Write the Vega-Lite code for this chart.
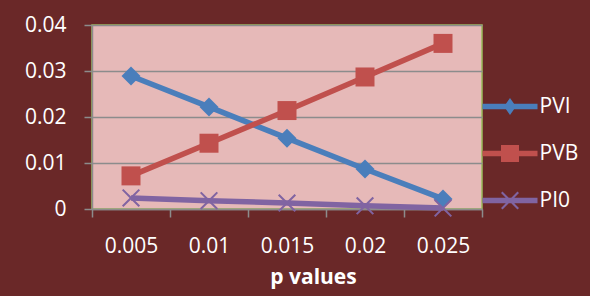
{
  "$schema": "https://vega.github.io/schema/vega-lite/v6.json",
  "autosize": {"type": "none"},
  "width": 390,
  "height": 184,
  "padding": {"left": 92, "top": 25, "right": 108, "bottom": 87},
  "background": "#6A2828",
  "config": {
    "font": "Open Sans",
    "view": {"fill": "#E6B9B8", "stroke": "#9BBB59", "strokeWidth": 1.5}
  },
  "data": {
    "values": [
      {"p": "0.005", "series": "PVI", "value": 0.0289},
      {"p": "0.01", "series": "PVI", "value": 0.0222},
      {"p": "0.015", "series": "PVI", "value": 0.0154},
      {"p": "0.02", "series": "PVI", "value": 0.0087},
      {"p": "0.025", "series": "PVI", "value": 0.0022},
      {"p": "0.005", "series": "PVB", "value": 0.0072},
      {"p": "0.01", "series": "PVB", "value": 0.0143},
      {"p": "0.015", "series": "PVB", "value": 0.0214},
      {"p": "0.02", "series": "PVB", "value": 0.0287},
      {"p": "0.025", "series": "PVB", "value": 0.0360},
      {"p": "0.005", "series": "PI0", "value": 0.0024},
      {"p": "0.01", "series": "PI0", "value": 0.0018},
      {"p": "0.015", "series": "PI0", "value": 0.0013},
      {"p": "0.02", "series": "PI0", "value": 0.0007},
      {"p": "0.025", "series": "PI0", "value": 0.0002}
    ]
  },
  "encoding": {
    "x": {
      "field": "p", "type": "ordinal", "sort": null,
      "scale": {"paddingInner": 0, "paddingOuter": 0},
      "axis": {
        "title": "p values",
        "labelAngle": 0,
        "labelFont": "Open Sans", "labelFontSize": 21, "labelColor": "#FFFFFF",
        "labelPadding": 18,
        "tickBand": "extent", "tickSize": 8, "tickColor": "#8C8C8C", "tickWidth": 1.5,
        "domainColor": "#8C8C8C", "domainWidth": 1.5,
        "titleFont": "Open Sans", "titleFontSize": 21, "titleFontWeight": "bold", "titleColor": "#FFFFFF",
        "titleX": 221, "titleY": 74, "titleAlign": "center", "titleBaseline": "alphabetic"
      }
    },
    "y": {
      "field": "value", "type": "quantitative",
      "scale": {"domain": [0, 0.04], "nice": false},
      "axis": {
        "title": null,
        "values": [0, 0.01, 0.02, 0.03, 0.04],
        "format": ".2~f",
        "labelFont": "Open Sans", "labelFontSize": 21, "labelColor": "#FFFFFF",
        "labelPadding": 18,
        "tickSize": 8, "tickColor": "#8C8C8C", "tickWidth": 1.5,
        "domainColor": "#8C8C8C", "domainWidth": 1.5,
        "grid": true, "gridColor": "#8C8C8C", "gridWidth": 1.5
      }
    },
    "color": {
      "field": "series", "type": "nominal",
      "scale": {"domain": ["PVI", "PVB", "PI0"], "range": ["#4A7EBB", "#C0504D", "#8064A2"]},
      "legend": {
        "title": null,
        "orient": "none",
        "legendX": 390,
        "legendY": 71,
        "padding": 0,
        "symbolSize": 400,
        "symbolType": "M-2.75,-0.25L2.75,-0.25L2.75,0.25L-2.75,0.25Z",
        "symbolOffset": 17.5,
        "symbolStrokeWidth": 0,
        "symbolOpacity": 1,
        "labelOffset": 19,
        "labelFont": "Open Sans", "labelFontSize": 21, "labelColor": "#FFFFFF",
        "rowPadding": 25,
        "encode": {
          "symbols": {
            "update": {
              "shape": {
                "signal": "datum.value === 'PVI' ? 'M-2.75,-0.27L2.75,-0.27L2.75,0.27L-2.75,0.27Z M-0.6,0L0,-0.85L0.6,0L0,0.85Z' : datum.value === 'PVB' ? 'M-2.75,-0.27L2.75,-0.27L2.75,0.27L-2.75,0.27Z M-0.9,-0.85L0.9,-0.85L0.9,0.85L-0.9,0.85Z' : 'M-2.75,-0.27L2.75,-0.27L2.75,0.27L-2.75,0.27Z M-0.9,-0.75L-0.75,-0.9L0,-0.15L0.75,-0.9L0.9,-0.75L0.15,0L0.9,0.75L0.75,0.9L0,0.15L-0.75,0.9L-0.9,0.75L-0.15,0Z'"
              },
              "fill": {"signal": "scale('color', datum.value)"},
              "strokeWidth": {"value": 0},
              "opacity": {"value": 1}
            }
          }
        }
      }
    }
  },
  "layer": [
    {
      "mark": {"type": "line", "strokeWidth": 5.5}
    },
    {
      "transform": [{"filter": "datum.series === 'PVI'"}],
      "mark": {"type": "point", "filled": true, "opacity": 1, "size": 361, "shape": "M-1,0L0,-1L1,0L0,1Z"}
    },
    {
      "transform": [{"filter": "datum.series === 'PVB'"}],
      "mark": {"type": "point", "filled": true, "opacity": 1, "size": 361, "shape": "M-1,-1L1,-1L1,1L-1,1Z"}
    },
    {
      "transform": [{"filter": "datum.series === 'PI0'"}],
      "mark": {"type": "point", "filled": true, "opacity": 1, "size": 361, "shape": "M-0.95,-0.8L-0.8,-0.95L0,-0.15L0.8,-0.95L0.95,-0.8L0.15,0L0.95,0.8L0.8,0.95L0,0.15L-0.8,0.95L-0.95,0.8L-0.15,0Z"}
    }
  ]
}
